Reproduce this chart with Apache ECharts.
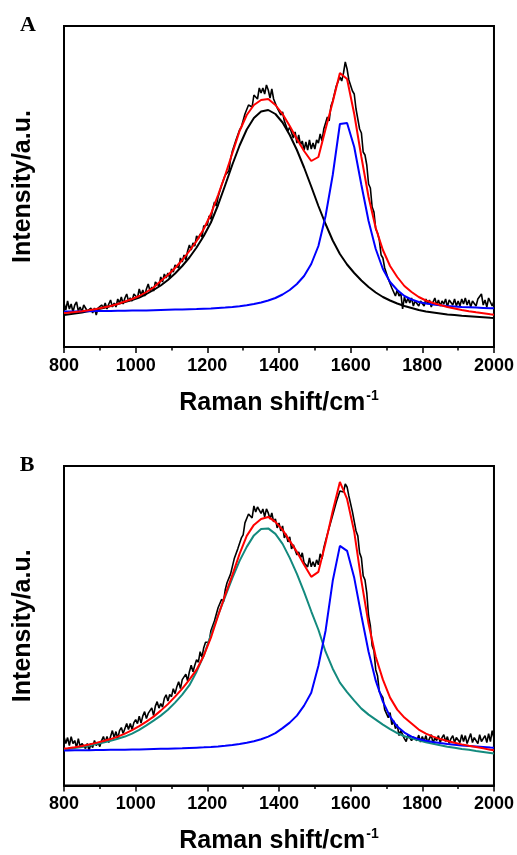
<!DOCTYPE html>
<html><head><meta charset="utf-8">
<script src="https://cdn.jsdelivr.net/npm/echarts@6/dist/echarts.min.js"></script>
<style>html,body{margin:0;padding:0;background:#fff}#c{width:517px;height:855px}</style>
</head><body><div id="c"></div>
<script>
// ---- data ----
const xTicks = [800, 1000, 1200, 1400, 1600, 1800, 2000];
const panelLabels = ['A', 'B'];
const xTitle = 'Raman shift/cm';
const xTitleSup = '-1';
const yTitle = 'Intensity/a.u.';

// raw spectra, sampled every 5 cm-1 starting at 800 cm-1
const rawStart = 800, rawStep = 5;
const rawA = [
44,37,46,38,43,35,42,45,36,40,35,42,44,36,34,39,34,39,32,39,
37,42,39,44,38,43,47,40,44,40,48,44,50,43,49,53,46,49,46,53,
53,49,58,52,57,51,58,63,56,60,56,65,64,61,70,65,73,69,74,69,
78,75,82,81,79,89,85,92,87,96,102,97,104,101,111,108,113,110,121,122,
122,131,128,138,145,141,150,148,162,161,172,173,176,188,196,194,207,206,217,220,
222,233,231,242,242,240,252,251,248,259,254,259,253,262,257,249,258,248,248,239,
240,232,235,226,227,216,220,219,209,215,204,212,202,206,197,205,197,207,198,204,
198,207,204,213,206,218,219,230,226,241,246,247,261,260,270,266,274,285,278,267,
269,256,253,238,237,218,214,195,192,182,163,159,140,135,118,114,107,92,89,79,
77,68,70,59,60,51,57,51,54,38,50,44,49,44,49,41,46,48,41,46,
46,41,48,43,47,40,45,49,42,47,41,46,43,48,40,47,45,42,48,41,
46,41,48,43,49,42,47,40,46,45,41,48,46,53,42,47,40,49,45,41,46];
const rawB = [
49,42,48,40,49,42,45,38,47,39,42,44,37,42,35,42,38,45,40,43,
39,45,49,43,49,43,49,55,48,54,47,55,58,52,57,62,56,62,56,63,
66,62,69.5,62.5,69.7,74,67,72.2,70.5,77.7,70,79.5,84,77.5,82,78.6,87.2,90.9,84.5,91.2,
89,97,92,99,104,97,106,104.3,111.5,104.8,114,120.5,114,120.5,126,123.5,134,128.5,138,143.5,
144,143.5,155,154.5,165,163.5,178,177,186.5,184,196,203,201.5,212,212,227,226,237,237,248,
251,263,261,272,272,268,280,274,279,281,272.5,277,269,277,273,267,273,264,267,258,
263,255,260,248,252,244,249,237,241,240,231,234,228,233,223,225,219,228,219,224,
219,226,221,232,227,238,245,243,258,259,271,271,284,284,295,295,294,302,299,290,
290,274,273,255,250,233,228,210,206,193,170,160,140,135,116,110,94,92,88,76,
77,68,73,61,65,57,61,50,55,55,47,44,51,52.5,45,48.5,50,45,50.5,43.5,
49,44,50,43,47,51,42,48,45,50,43,48,51,44,49,42,47,50,43,48,
48,43,51,44,50,42,47,52,43,48,49,42,51,44,47,50,43,52,44,55,47];

// fitted curves
const fitX = [800,810,830,850,870,890,910,930,950,970,990,1010,1030,1050,1070,1090,1110,1130,1150,1170,1190,1210,1230,1250,1270,1290,1310,1330,1350,1370,1390,1410,1430,1450,1470,1490,1510,1530,1550,1570,1590,1610,1630,1650,1670,1690,1710,1730,1750,1770,1790,1810,1830,1850,1870,1890,1910,1930,1950,1970,1990,2000];
const dBandA = [32,32.5,33.5,34.5,36,37.5,39,41,43,45,47,49.5,53,57,61.5,67,73.5,81,89.5,99.5,111,124.5,142,162,182.5,201.5,217.5,229,235.5,237,233,224.5,212,197,179.5,160.5,141,123,106.5,93,82.5,74,66.5,60,54.5,50,46.5,43.5,41,39,37,35.5,34.5,33.5,32.5,32,31.2,30.7,30.2,29.7,29.2,29];
const gBandA = [35.5,35.5,35.6,35.7,35.8,35.9,36,36.1,36.2,36.3,36.4,36.5,36.6,36.8,37,37.2,37.4,37.6,37.8,38,38.3,38.6,39,39.4,40,40.8,41.8,43,44.5,46.5,49,52.5,57,63,71,83,101,131,172,223,224,200,162,126,98,78,65,57,51,47.5,45,43.5,42.5,41.7,41,40.5,40,39.7,39.4,39.1,38.8,38.7];
const fitA = [34,34.3,35,35.8,36.8,38,39.5,41,43,45.5,48,51,55,59.5,66,72,79,87,96,106,118,133,152,172,194,216,232,242,247,248,242,233,221,208,196,186,190,218,245,274,268,233,190,150,119,97,81,70,61,55,50,46.5,44,42,40,38.5,37,35.8,34.7,33.7,32.7,32.3];
const dBandB = [36,36.4,37.5,38.5,40,41.5,43,44.8,46.8,49,52,55.8,60.3,65,70,75.8,83,91,100.5,114,130,151,170.5,189.5,208,225,239,250.5,257,257.5,252,242,228,212,194,174.5,156,134,117,103,93.5,85,77,71,66,61,56.5,52.5,49.3,47.2,45.2,43.3,41.8,40.3,38.8,37.8,36.5,35.7,34.6,33.6,32.6,32.1];
const gBandB = [35,35.1,35.2,35.3,35.4,35.5,35.6,35.7,35.8,35.9,36,36.1,36.3,36.5,36.7,36.9,37.1,37.3,37.6,37.9,38.2,38.6,39.1,39.7,40.5,41.5,42.8,44.3,46.3,49,52.5,57.5,63,70,80,93,120,155,205,240,235,208,170,134,105,84,69,59,53,49,46.5,44.8,43.5,42.5,41.6,40.8,40.1,39.5,39,38.5,38,37.8];
const fitB = [37,37.3,38.3,39.5,41,42.7,44.5,46.5,49,52,55.5,59.5,64,69,75,81.5,89,97,106,116,130,148,170,191,211,232,250,261,267,269,264,256,245,234,221,209,214,243,275,304,287,254,205,162,129,106,88,76,68,62,56,52,49,46.5,44.5,42.8,41.2,39.8,38.5,37.2,35.8,35.2];

// ---- chart ----
const FONT = '"Liberation Sans", Arial, sans-serif';
const rawPairs = arr => arr.map((v, i) => [rawStart + i * rawStep, v]);
const fitPairs = arr => arr.map((v, i) => [fitX[i], v]);

const grids = [
  {left: 64, top: 26, width: 432, height: 321},
  {left: 64, top: 466, width: 432, height: 320}
];
const yMax = [321, 320];

function xAxisFor(i) {
  return {
    gridIndex: i, type: 'value', min: xTicks[0], max: xTicks[xTicks.length - 1],
    interval: xTicks[1] - xTicks[0],
    axisLine: {show: true, onZero: false, lineStyle: {color: '#000', width: 2}},
    axisTick: {show: true, length: 6, lineStyle: {color: '#000', width: 1.5}},
    minorTick: {show: true, splitNumber: 2, length: 3.5, lineStyle: {color: '#000', width: 1.5}},
    splitLine: {show: false},
    axisLabel: {color: '#000', fontSize: 18, fontWeight: 'bold', fontFamily: FONT, margin: 10,
      formatter: v => String(v)},
    name: '{t|' + xTitle + '}{s|' + xTitleSup + '}',
    nameLocation: 'middle', nameGap: 42,
    nameTextStyle: {
      rich: {
        t: {fontSize: 25, fontWeight: 'bold', fontFamily: FONT, color: '#000', lineHeight: 28},
        s: {fontSize: 14, fontWeight: 'bold', fontFamily: FONT, color: '#000', lineHeight: 14, verticalAlign: 'top', padding: [0, 0, 0, 1]}
      }
    }
  };
}
function yAxisFor(i) {
  return {
    gridIndex: i, type: 'value', min: 0, max: yMax[i],
    axisLine: {show: false}, axisTick: {show: false}, axisLabel: {show: false}, splitLine: {show: false},
    name: yTitle, nameLocation: 'middle', nameGap: 28,
    nameTextStyle: {fontSize: 25, fontWeight: 'bold', fontFamily: FONT, color: '#000'}
  };
}
function line(i, data, color, width) {
  return {type: 'line', xAxisIndex: i, yAxisIndex: i, data: data, showSymbol: false, symbol: 'none',
    lineStyle: {color: color, width: width}, itemStyle: {color: color}, silent: true};
}

const option = {
  animation: false,
  backgroundColor: '#fff',
  grid: grids.map(g => Object.assign({show: true, borderColor: '#000', borderWidth: 2, backgroundColor: 'transparent'}, g)),
  xAxis: [xAxisFor(0), xAxisFor(1)],
  yAxis: [yAxisFor(0), yAxisFor(1)],
  graphic: [
    {type: 'text', x: 28, y: 25, style: {text: panelLabels[0], fontSize: 22, fontWeight: 'bold', fontFamily: '"Liberation Serif", "Times New Roman", serif', fill: '#000', align: 'center', verticalAlign: 'middle'}},
    {type: 'text', x: 27, y: 465, style: {text: panelLabels[1], fontSize: 22, fontWeight: 'bold', fontFamily: '"Liberation Serif", "Times New Roman", serif', fill: '#000', align: 'center', verticalAlign: 'middle'}}
  ],
  series: [
    line(0, rawPairs(rawA), '#000', 1.6),
    line(0, fitPairs(dBandA), '#000', 2),
    line(0, fitPairs(gBandA), '#0000ff', 2),
    line(0, fitPairs(fitA), '#ff0000', 2),
    line(1, rawPairs(rawB), '#000', 1.6),
    line(1, fitPairs(dBandB), '#138a7e', 2),
    line(1, fitPairs(gBandB), '#0000ff', 2),
    line(1, fitPairs(fitB), '#ff0000', 2)
  ]
};
const chart = echarts.init(document.getElementById('c'), null, {renderer: 'canvas'});
chart.setOption(option);
</script>
</body></html>
